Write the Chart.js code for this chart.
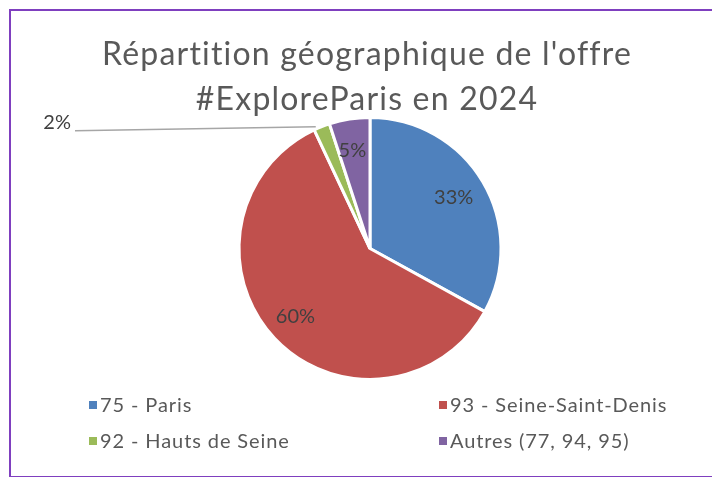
<!DOCTYPE html>
<html>
<head>
<meta charset="utf-8">
<script src="https://cdn.jsdelivr.net/npm/chart.js@4/dist/chart.umd.min.js"></script>
<style>
  html, body { margin: 0; background: #fff; overflow: hidden; width: 712px; height: 477px; }
  #frame { position: absolute; left: 9px; top: 9px; width: 712px; height: 469px; border: 2px solid #7f3fbf; border-right: none; box-sizing: border-box; }
  #wrap { position: absolute; left: 0; top: 0; width: 712px; height: 477px; }
</style>
</head>
<body>
<div id="frame"></div>
<div id="wrap"><canvas id="pieChart" width="712" height="477"></canvas></div>
<script>
// Répartition géographique de l'offre #ExploreParis en 2024
var titleLines = ["Répartition géographique de l'offre", "#ExploreParis en 2024"];
var zones = ["75 - Paris", "93 - Seine-Saint-Denis", "92 - Hauts de Seine", "Autres (77, 94, 95)"];
var shares = [33, 60, 2, 5];
var zoneColors = ['#4F81BD', '#C0504D', '#9BBB59', '#8064A2'];

var FONT = 'Lato, "Liberation Sans", sans-serif';

// title, slice labels and a 2 column legend, drawn by hand
var decor = {
    id: 'decor',
    afterDraw: function(chart) {
        var ctx = chart.ctx;
        ctx.save();

        // title
        ctx.fillStyle = '#595959';
        ctx.font = '32px ' + FONT;
        ctx.letterSpacing = '1.2px';
        ctx.textAlign = 'center';
        ctx.textBaseline = 'alphabetic';
        ctx.fillText(titleLines[0], 367, 65);
        ctx.fillText(titleLines[1], 367, 110);

        // percentages
        var arcs = chart.getDatasetMeta(0).data;
        var total = shares.reduce(function(a, b) { return a + b; }, 0);
        ctx.font = '20px ' + FONT;
        ctx.letterSpacing = '0px';
        ctx.fillStyle = '#404040';
        ctx.textBaseline = 'middle';
        arcs.forEach(function(arc, i) {
            var p = arc.getProps(['x', 'y', 'startAngle', 'endAngle', 'outerRadius']);
            var mid = (p.startAngle + p.endAngle) / 2;
            var txt = Math.round(shares[i] / total * 100) + '%';
            if (shares[i] / total < 0.03) {
                // small slice: label outside with leader line
                var ex = p.x + Math.cos(mid) * p.outerRadius;
                var ey = p.y + Math.sin(mid) * p.outerRadius;
                ctx.strokeStyle = '#a6a6a6';
                ctx.lineWidth = 1.5;
                ctx.beginPath();
                ctx.moveTo(ex - 6, ey);
                ctx.lineTo(75, ey + 4);
                ctx.stroke();
                ctx.textAlign = 'right';
                ctx.fillText(txt, 71, ey - 4);
            } else {
                var r = p.outerRadius * 0.76;
                ctx.textAlign = 'center';
                ctx.fillText(txt, p.x + Math.cos(mid) * r - 2, p.y + Math.sin(mid) * r);
            }
        });

        // legend
        ctx.font = '20px ' + FONT;
        ctx.letterSpacing = '0.9px';
        ctx.textAlign = 'left';
        ctx.textBaseline = 'alphabetic';
        var colX = [89, 439], rowY = [412, 448];
        zones.forEach(function(z, i) {
            var x = colX[i % 2], y = rowY[Math.floor(i / 2)];
            ctx.fillStyle = zoneColors[i];
            ctx.fillRect(x, y - 11, 8, 8);
            ctx.fillStyle = '#595959';
            ctx.fillText(z, x + 11, y);
        });

        ctx.restore();
    }
};

var chartPie = document.getElementById('pieChart').getContext('2d');
var myChart = new Chart(chartPie, {
    type: 'pie',
    data: {
        labels: zones,
        datasets: [{
            data: shares,
            backgroundColor: zoneColors,
            borderColor: '#ffffff',
            borderWidth: 3
        }]
    },
    options: {
        responsive: false,
        animation: false,
        layout: { padding: { top: 116, bottom: 96, left: 28, right: 0 } },
        plugins: {
            legend: { display: false },
            tooltip: { enabled: false }
        }
    },
    plugins: [decor]
});
</script>
</body>
</html>
